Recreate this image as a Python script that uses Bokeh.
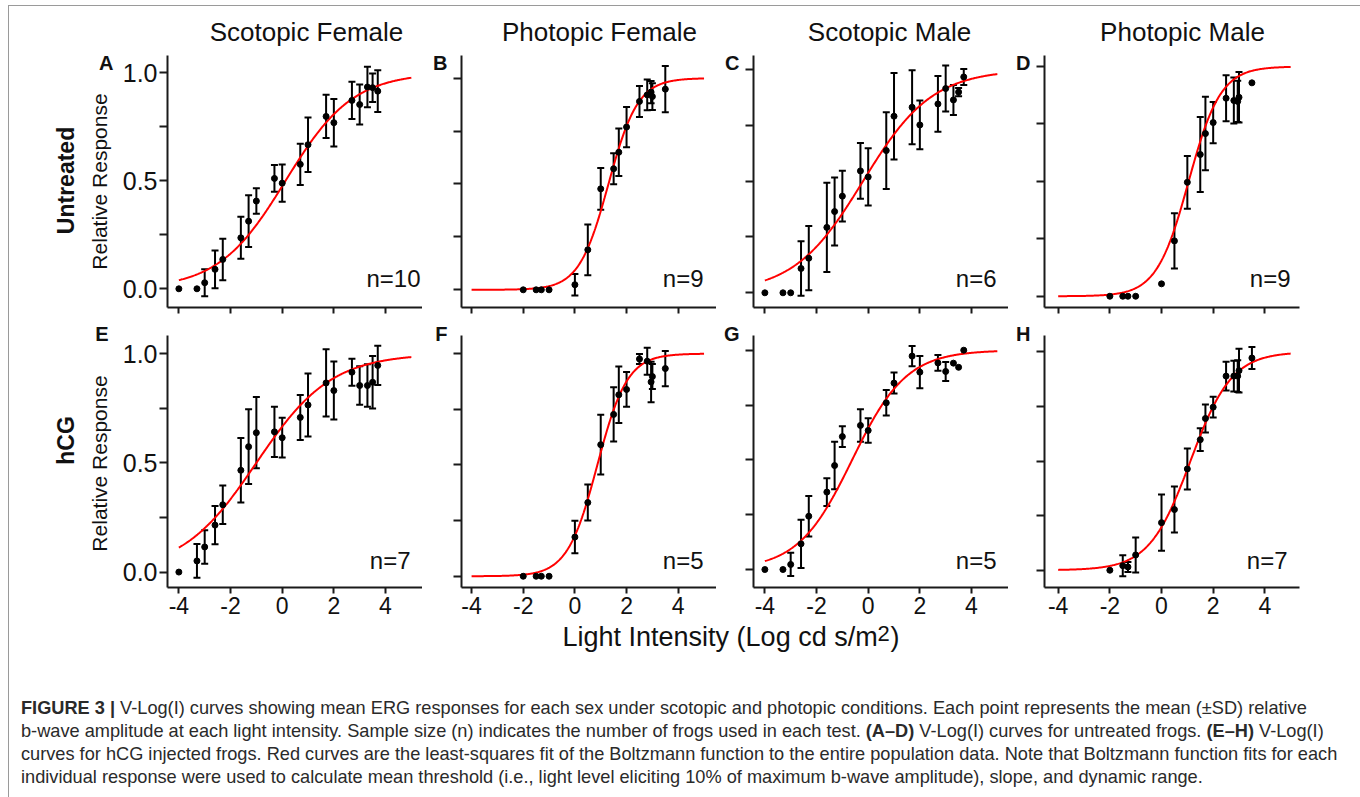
import numpy as np
from bokeh.plotting import figure
from bokeh.models import ColumnDataSource, Whisker, TeeHead, Label, FixedTicker, Div, Range1d
from bokeh.layouts import column, row
from bokeh.embed import file_html
from bokeh.resources import INLINE

# ---------------- data ----------------
col_titles = ["Scotopic Female", "Photopic Female", "Scotopic Male", "Photopic Male"]
row_titles = ["Untreated", "hCG"]
panel_letters = ["A", "B", "C", "D", "E", "F", "G", "H"]
n_labels = ["n=10", "n=9", "n=6", "n=9", "n=7", "n=5", "n=5", "n=7"]
y_axis_label = "Relative Response"
x_axis_label = "Light Intensity (Log cd s/m"
x_axis_sup = "2"
x_tick_vals = [-4, -2, 0, 2, 4]
x_tick_text = ["-4", "-2", "0", "2", "4"]
y_tick_vals = [0.0, 0.25, 0.5, 0.75, 1.0]
y_tick_text = ["0.0", "", "0.5", "", "1.0"]

x_scot = [-4.0, -3.3, -3.0, -2.6, -2.3, -1.6, -1.3, -1.0, -0.3, 0.0, 0.7, 1.0, 1.7, 2.0, 2.7, 3.0, 3.3, 3.5, 3.7]
x_phot = [-2.0, -1.5, -1.3, -1.0, 0.0, 0.5, 1.0, 1.5, 1.7, 2.0, 2.5, 2.8, 2.95, 3.0, 3.5]

y_A = [0.0, 0.0, 0.028, 0.09, 0.136, 0.236, 0.313, 0.406, 0.511, 0.489, 0.576, 0.667, 0.798, 0.769, 0.872, 0.853, 0.934, 0.931, 0.915]
e_A = [0, 0, 0.063, 0.087, 0.096, 0.097, 0.12, 0.059, 0.062, 0.086, 0.096, 0.126, 0.10, 0.11, 0.086, 0.093, 0.094, 0.066, 0.097]

y_B = [0, 0, 0, 0, 0.024, 0.189, 0.477, 0.572, 0.65, 0.769, 0.89, 0.921, 0.934, 0.913, 0.948]
e_B = [0, 0, 0, 0, 0.051, 0.12, 0.099, 0.073, 0.112, 0.095, 0.073, 0.073, 0.053, 0.063, 0.109]

y_C = [0, 0, 0, 0.109, 0.155, 0.293, 0.364, 0.433, 0.546, 0.519, 0.637, 0.791, 0.831, 0.752, 0.846, 0.915, 0.864, 0.899, 0.967]
e_C = [0, 0, 0, 0.122, 0.144, 0.20, 0.152, 0.114, 0.125, 0.128, 0.172, 0.194, 0.166, 0.109, 0.125, 0.103, 0.067, 0.018, 0.036]

y_D = [0, 0, 0, 0, 0.054, 0.241, 0.496, 0.617, 0.708, 0.756, 0.862, 0.852, 0.848, 0.866, 0.929]
e_D = [0, 0, 0, 0, 0, 0.12, 0.115, 0.163, 0.16, 0.09, 0.10, 0.10, 0.09, 0.11, 0]

y_E = [0, 0.051, 0.115, 0.215, 0.308, 0.466, 0.574, 0.638, 0.642, 0.615, 0.708, 0.765, 0.866, 0.831, 0.915, 0.854, 0.854, 0.869, 0.946]
e_E = [0, 0.077, 0.077, 0.088, 0.088, 0.148, 0.171, 0.163, 0.115, 0.091, 0.103, 0.144, 0.154, 0.133, 0.062, 0.088, 0.097, 0.12, 0.09]

y_F = [0, 0, 0, 0, 0.176, 0.331, 0.591, 0.727, 0.815, 0.839, 0.976, 0.966, 0.873, 0.897, 0.933]
e_F = [0, 0, 0, 0, 0.073, 0.081, 0.134, 0.122, 0.127, 0.078, 0.022, 0.061, 0.091, 0.056, 0.079]

y_G = [0, 0, 0.023, 0.117, 0.243, 0.353, 0.474, 0.606, 0.657, 0.634, 0.76, 0.85, 0.973, 0.9, 0.942, 0.903, 0.941, 0.922, 1.0]
e_G = [0, 0, 0.053, 0.11, 0.092, 0.063, 0.108, 0.047, 0.074, 0.056, 0.058, 0.048, 0.046, 0.073, 0.036, 0.043, 0, 0, 0]

y_H = [0, 0.021, 0.015, 0.07, 0.218, 0.278, 0.464, 0.598, 0.695, 0.747, 0.889, 0.889, 0.889, 0.914, 0.972]
e_H = [0, 0.048, 0.023, 0.08, 0.129, 0.105, 0.094, 0.052, 0.064, 0.047, 0.066, 0.07, 0.073, 0.10, 0.05]

# Boltzmann fit parameters (midpoint x0, slope dx), bottom 0, top 1
fit_x0 = [0.13, 1.30, -0.20, 1.05, -1.00, 0.87, -0.62, 1.12]
fit_dx = [1.30, 0.57, 1.34, 0.62, 1.45, 0.58, 1.05, 0.80]
fit_span = [-4.0, 5.0]

caption_lines = [
    "<b>FIGURE 3 |</b> V-Log(I) curves showing mean ERG responses for each sex under scotopic and photopic conditions. Each point represents the mean (&plusmn;SD) relative",
    "b-wave amplitude at each light intensity. Sample size (n) indicates the number of frogs used in each test. <b>(A&ndash;D)</b> V-Log(I) curves for untreated frogs. <b>(E&ndash;H)</b> V-Log(I)",
    "curves for hCG injected frogs. Red curves are the least-squares fit of the Boltzmann function to the entire population data. Note that Boltzmann function fits for each",
    "individual response were used to calculate mean threshold (i.e., light level eliciting 10% of maximum b-wave amplitude), slope, and dynamic range.",
]

panel_x = [x_scot, x_phot, x_scot, x_phot, x_scot, x_phot, x_scot, x_phot]
panel_y = [y_A, y_B, y_C, y_D, y_E, y_F, y_G, y_H]
panel_e = [e_A, e_B, e_C, e_D, e_E, e_F, e_G, e_H]

# ---------------- layout / style ----------------
FONT = "Liberation Sans"
TXT = "#111111"
AX = "#1a1a1a"
FW, FH = 255, 252
TOTAL_W = 1342
TOP = 6            # page y of the layout content
TITLE_H = 44
border_l = [53, 12, 12, 12]
border_r = [0, 0, 0, 52]
border_t = [5, 14]
border_b = [14, 34]
row_h = [border_t[0] + FH + border_b[0], border_t[1] + FH + border_b[1]]
strip_w = [105, 27, 25, 24]
strip_h = [268, row_h[0] + row_h[1] - 268]
strip_top = [TOP + TITLE_H, TOP + TITLE_H + strip_h[0]]
x_start = [-4.44, -4.39, -4.44, -4.53]
x_span = 9.872
y_rng = [(-0.0866, 1.080), (-0.0836, 1.107), (-0.0658, 1.063), (-0.049, 1.048),
         (-0.0706, 1.083), (-0.0506, 1.0815), (-0.082, 1.067), (-0.079, 1.075)]
BASE_FIX = 0.36    # alphabetic-baseline correction, in em
n_right = [2, 13, 12, 9, 12, 13, 12, 12]
n_base = [29, 27]
letter_x = [104, 25, 23, 22, 99, 25, 23, 22]
letter_page_base = [69.5, 340.5]
title_cx = [297, 590, 880, 1173]
title_y = 19
ylab_cx, ylab_page_cy = 90, [181, 463]
rlab_cx, rlab_page_cy = 56, [180, 440]
FX_H = 660 - (TOP + TITLE_H + row_h[0] + row_h[1])


def blank(w, h):
    f = figure(width=w, height=h, min_border=0, x_axis_location=None, y_axis_location=None,
               x_range=Range1d(0, w), y_range=Range1d(0, h),
               toolbar_location=None, output_backend="svg")
    f.grid.visible = False
    f.outline_line_color = None
    f.background_fill_color = "white"
    f.border_fill_color = "white"
    return f


def lab(f, x, y, text, size, align="left", baseline="alphabetic", bold=False, angle=0.0):
    f.add_layout(Label(x=x, y=y, x_units="screen", y_units="screen", text=text,
                       text_align=align, text_baseline=baseline, angle=angle,
                       text_font=FONT, text_font_size=f"{size}px",
                       text_font_style="bold" if bold else "normal", text_color=TXT))


def make_panel(i):
    r, c = divmod(i, 4)
    p = figure(frame_width=FW, frame_height=FH,
               min_border_left=border_l[c], min_border_right=border_r[c],
               min_border_top=border_t[r], min_border_bottom=border_b[r],
               x_range=Range1d(x_start[c], x_start[c] + x_span),
               y_range=Range1d(*y_rng[i]),
               toolbar_location=None, output_backend="svg")
    p.outline_line_color = None
    p.xgrid.visible = False
    p.ygrid.visible = False
    p.background_fill_color = "white"
    p.border_fill_color = "white"
    for ax in (p.xaxis[0], p.yaxis[0]):
        ax.axis_line_color = AX
        ax.axis_line_width = 2
        ax.major_tick_line_color = AX
        ax.major_tick_line_width = 2
        ax.major_tick_in = 0
        ax.minor_tick_line_color = None
        ax.major_label_text_font = FONT
        ax.major_label_text_color = TXT
    p.xaxis.ticker = FixedTicker(ticks=x_tick_vals)
    p.yaxis.ticker = FixedTicker(ticks=y_tick_vals)
    p.xaxis.major_tick_out = 6
    p.yaxis.major_tick_out = 8
    if r == 1:
        p.xaxis.major_label_overrides = {v: t for v, t in zip(x_tick_vals, x_tick_text)}
        p.xaxis.major_label_text_font_size = "23px"
        p.xaxis.major_label_standoff = 3
    else:
        p.xaxis.major_label_overrides = {v: "" for v in x_tick_vals}
        p.xaxis.major_label_text_font_size = "1px"
        p.xaxis.major_label_standoff = 0
    if c == 0:
        p.yaxis.major_label_overrides = {v: t for v, t in zip(y_tick_vals, y_tick_text)}
        p.yaxis.major_label_text_font_size = "25px"
        p.yaxis.major_label_standoff = 2
    else:
        p.yaxis.major_label_overrides = {v: "" for v in y_tick_vals}
        p.yaxis.major_label_text_font_size = "1px"
        p.yaxis.major_label_standoff = 0

    # fitted Boltzmann curve
    xc = np.linspace(fit_span[0], fit_span[1], 300)
    yc = 1.0 / (1.0 + np.exp(-(xc - fit_x0[i]) / fit_dx[i]))
    p.line(xc, yc, line_color="#ff0000", line_width=2)

    xs, ys, es = panel_x[i], panel_y[i], panel_e[i]
    wsrc = ColumnDataSource(dict(
        x=[x for x, e in zip(xs, es) if e > 0],
        lo=[y - e for y, e in zip(ys, es) if e > 0],
        hi=[y + e for y, e in zip(ys, es) if e > 0]))
    p.add_layout(Whisker(source=wsrc, base="x", lower="lo", upper="hi", dimension="height",
                         line_color="black", line_width=2,
                         lower_head=TeeHead(size=7, line_color="black", line_width=2),
                         upper_head=TeeHead(size=7, line_color="black", line_width=2)))
    p.scatter(xs, ys, size=6, color="black", marker="circle")

    lab(p, FW - n_right[i], n_base[r], n_labels[i], 24, align="right")
    return p


def make_strip(r, c):
    h = strip_h[r]
    bottom = strip_top[r] + h
    f = blank(strip_w[c], h)
    i = r * 4 + c
    lab(f, letter_x[i], bottom - letter_page_base[r] + BASE_FIX * 20, panel_letters[i], 20,
        align="right", bold=True)
    if c == 0:
        lab(f, ylab_cx, bottom - ylab_page_cy[r], y_axis_label, 21, align="center",
            baseline="middle", angle=np.pi / 2)
        lab(f, rlab_cx, bottom - rlab_page_cy[r], row_titles[r], 23, align="center",
            baseline="middle", bold=True, angle=np.pi / 2)
    return f


# column titles strip
ft = blank(TOTAL_W, TITLE_H)
for c in range(4):
    lab(ft, title_cx[c], title_y, col_titles[c], 26, align="center")

cols = []
for c in range(4):
    cols.append(column(make_strip(0, c), make_strip(1, c)))
    cols.append(column(make_panel(c), make_panel(4 + c)))
grid = row(*cols)

# x-axis label strip
fx = blank(TOTAL_W, FX_H)
lab(fx, 553, 660 - 646 + BASE_FIX * 27, x_axis_label, 27)
lab(fx, 868, 660 - 641 + BASE_FIX * 22, x_axis_sup, 22)
lab(fx, 881, 660 - 646 + BASE_FIX * 27, ")", 27)

cap_html = ("<div style=\"font-family:'Liberation Sans',Arial,sans-serif;font-size:18.2px;"
            "line-height:23px;color:#2a2a2a;white-space:nowrap;padding:32px 0 0 7px;\">"
            + "<br>".join(caption_lines) + "</div>")
cap = Div(text=cap_html, width=TOTAL_W, height=135)

layout = column(ft, grid, fx, cap,
                styles={"border": "1px solid #9a9a9a", "margin-left": "8px", "margin-top": "5px"})

open("out.html", "w").write(file_html(layout, INLINE))
